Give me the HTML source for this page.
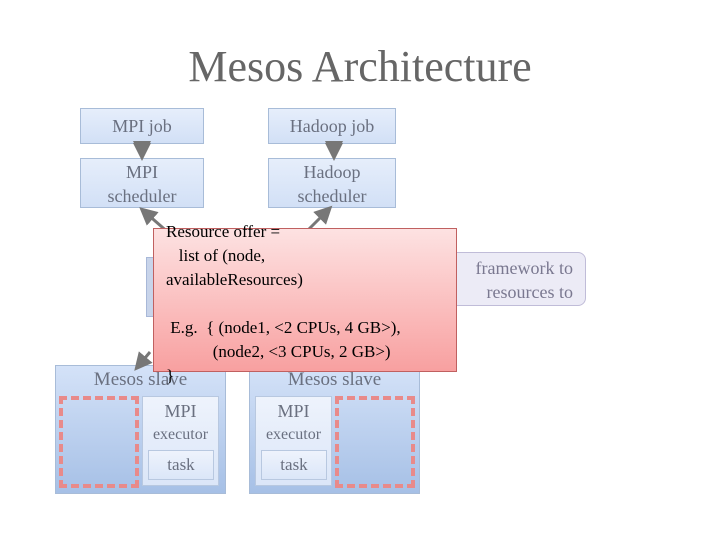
<!DOCTYPE html>
<html><head><style>
body{margin:0;width:720px;height:540px;background:#fff;position:relative;overflow:hidden;font-family:"Liberation Serif",serif;}
.a{position:absolute;box-sizing:border-box;}
.bx{background:linear-gradient(#e6eefb,#d2e0f6);border:1px solid #a8bcd8;color:#6a7080;text-align:center;font-size:18px;line-height:24px;}
.sl{background:linear-gradient(#d4e2f8,#a6c0e6);border:1px solid #a8bcd8;}
.ex{background:linear-gradient(#eef3fc,#dbe6f8);border:1px solid #b8c8e0;color:#6a7080;text-align:center;font-size:18px;}
.ds{border:4px dashed #e88a8a;}
</style></head><body>
<div class="a" style="left:0;top:40px;width:720px;text-align:center;font-size:44px;color:#666;line-height:54px">Mesos Architecture</div>
<div class="a bx" style="left:80px;top:108px;width:124px;height:36px;line-height:34px">MPI job</div>
<div class="a bx" style="left:268px;top:108px;width:128px;height:36px;line-height:34px">Hadoop job</div>
<div class="a bx" style="left:80px;top:158px;width:124px;height:50px;padding-top:1px">MPI<br>scheduler</div>
<div class="a bx" style="left:268px;top:158px;width:128px;height:50px;padding-top:1px">Hadoop<br>scheduler</div>
<div class="a" style="left:146px;top:257px;width:20px;height:60px;background:#c8d4ea;border:1px solid #a8b8d8"></div>
<div class="a" style="left:420px;top:252px;width:166px;height:54px;background:#ecebf6;border:1px solid #c0bcd8;border-radius:8px;color:#7a7890;font-size:18px;line-height:24px;text-align:right;padding:3px 12px 0 0">framework to<br>resources to</div>
<div class="a sl" style="left:55px;top:365px;width:171px;height:129px"></div>
<div class="a sl" style="left:249px;top:365px;width:171px;height:129px"></div>
<div class="a" style="left:55px;top:369px;width:171px;text-align:center;font-size:19px;color:#6a7080">Mesos slave</div>
<div class="a" style="left:249px;top:369px;width:171px;text-align:center;font-size:19px;color:#6a7080">Mesos slave</div>
<div class="a ds" style="left:59px;top:396px;width:80px;height:92px"></div>
<div class="a ds" style="left:335px;top:396px;width:80px;height:92px"></div>
<div class="a ex" style="left:142px;top:396px;width:77px;height:90px;line-height:22px;padding-top:3px">MPI<br><span style="font-size:16px">executor</span></div>
<div class="a ex" style="left:255px;top:396px;width:77px;height:90px;line-height:22px;padding-top:3px">MPI<br><span style="font-size:16px">executor</span></div>
<div class="a ex" style="left:148px;top:450px;width:66px;height:30px;line-height:28px;font-size:17px">task</div>
<div class="a ex" style="left:261px;top:450px;width:66px;height:30px;line-height:28px;font-size:17px">task</div>
<svg class="a" style="left:0;top:0" width="720" height="540">
<defs><marker id="m" markerWidth="6" markerHeight="6" refX="3" refY="3" orient="auto"><path d="M0,0L6,3L0,6z" fill="#777"/></marker></defs>
<g stroke="#777" stroke-width="3" fill="none">
<line x1="142" y1="150" x2="142" y2="152" marker-start="url(#m)" marker-end="url(#m)"/>
<line x1="334" y1="150" x2="334" y2="152" marker-start="url(#m)" marker-end="url(#m)"/>
<line x1="170" y1="234" x2="146" y2="213" marker-end="url(#m)"/>
<line x1="305" y1="233" x2="326" y2="212" marker-end="url(#m)"/>
<line x1="150" y1="352" x2="140" y2="364" marker-end="url(#m)"/>
</g></svg>
<div class="a" style="left:153px;top:228px;width:304px;height:144px;background:linear-gradient(#fde2e2,#f8a0a0);border:1px solid #c06060;color:#000;font-size:17px;line-height:24px;padding:-2px 0 0 6px">
<div style="position:absolute;left:12px;top:-9px;white-space:pre">Resource offer =
   list of (node,
availableResources)

 E.g.  { (node1, &lt;2 CPUs, 4 GB&gt;),
           (node2, &lt;3 CPUs, 2 GB&gt;)
}</div></div>
</body></html>
